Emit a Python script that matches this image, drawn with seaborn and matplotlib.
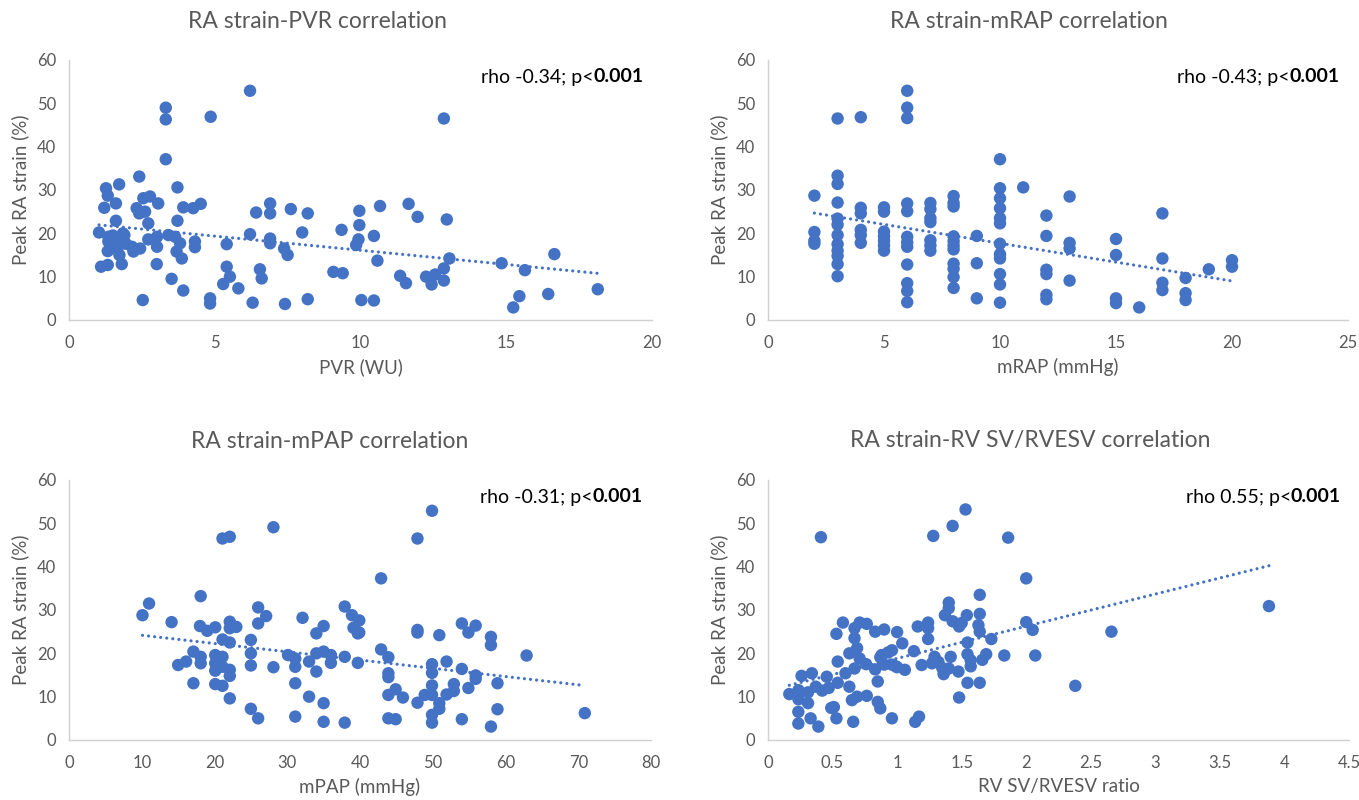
import numpy as np
import pandas as pd
import matplotlib
matplotlib.use("Agg")
import matplotlib.pyplot as plt
import seaborn as sns
from matplotlib.ticker import FuncFormatter

# ---------------- data ----------------
pvr = [1.03, 1.10, 1.33, 1.21, 1.27, 1.33, 1.61, 1.72, 1.61, 1.35, 1.35, 1.33, 1.72, 1.72, 1.80, 1.73, 1.81,
       1.50, 1.60, 1.90, 1.95, 1.55, 1.85,
       2.16, 2.21, 2.44, 2.41, 2.32, 2.41, 2.55, 2.78, 2.61, 2.72, 2.72, 3.02, 3.02, 3.06, 3.01, 2.53,
       3.32, 3.32, 3.32, 3.41, 3.52, 3.72, 3.72, 3.64, 3.81, 3.69, 3.87, 3.92, 3.92, 4.26, 4.52, 4.32, 4.32,
       4.86, 4.84, 4.84,
       5.41, 5.41, 5.52, 5.29, 5.81, 6.21, 6.21, 6.30, 6.42, 6.90, 6.90, 6.90, 6.90, 6.55, 6.61, 7.38, 7.50,
       7.41, 7.61, 8.19, 8.00, 8.19,
       9.07, 9.39, 9.35, 9.96, 9.96, 9.93, 9.85, 10.03, 10.46, 10.46, 10.58, 10.67, 11.36, 11.56, 11.65,
       11.96, 12.25, 12.44, 12.56, 12.86, 12.86, 12.86, 12.96, 13.05, 14.84, 15.24, 15.45, 15.64, 16.44,
       16.65, 18.14]
pvr_strain = [20.2, 12.3, 12.7, 25.9, 30.4, 28.7, 26.9, 31.3, 22.9, 19.2, 18.1, 15.9, 18.8, 17.3, 18.3, 15.0, 12.9,
              19.5, 17.8, 19.6, 17.6, 16.6, 20.0,
              16.9, 15.8, 16.5, 33.1, 25.8, 24.6, 28.1, 28.5, 25.0, 22.3, 18.6, 19.2, 16.9, 26.9, 12.9, 4.6,
              49.0, 46.3, 37.1, 19.6, 9.5, 30.6, 22.9, 19.2, 17.7, 15.8, 14.2, 6.8, 26.0, 25.8, 26.8, 18.1, 16.8,
              46.9, 5.0, 3.8,
              17.5, 12.3, 10.0, 8.3, 7.3, 52.9, 19.8, 4.0, 24.8, 26.9, 24.6, 18.8, 17.7, 11.7, 9.6, 16.5, 15.0,
              3.7, 25.6, 24.6, 20.2, 4.8,
              11.1, 10.8, 20.8, 25.2, 21.9, 18.6, 17.3, 4.6, 4.5, 19.4, 13.7, 26.3, 10.2, 8.5, 26.8,
              23.8, 10.0, 8.2, 10.5, 11.9, 9.1, 46.5, 23.2, 14.2, 13.1, 2.9, 5.5, 11.5, 6.0,
              15.2, 7.1]

mrap = [2, 2, 2, 2,
        3, 3, 3, 3, 3, 3, 3, 3, 3, 3, 3, 3,
        4, 4, 4, 4, 4, 4,
        5, 5, 5, 5, 5, 5, 5,
        6, 6, 6, 6, 6, 6, 6, 6, 6, 6, 6, 6,
        7, 7, 7, 7, 7, 7, 7,
        8, 8, 8, 8, 8, 8, 8, 8, 8, 8, 8,
        9, 9, 9,
        10, 10, 10, 10, 10, 10, 10, 10, 10, 10, 10, 10,
        11,
        12, 12, 12, 12, 12, 12,
        13, 13, 13, 13,
        15, 15, 15, 15,
        16,
        17, 17, 17, 17,
        18, 18, 18,
        19,
        20, 20]
mrap_strain = [28.7, 20.3, 18.3, 17.6,
               46.5, 33.3, 31.4, 27.1, 23.4, 22.0, 19.6, 17.5, 16.0, 14.8, 12.9, 10.1,
               46.8, 25.9, 24.6, 20.8, 19.6, 17.8,
               26.0, 25.0, 20.4, 19.3, 18.3, 17.2, 16.0,
               52.9, 49.0, 46.6, 26.9, 25.1, 19.2, 17.9, 16.9, 12.8, 8.5, 6.7, 4.1,
               27.0, 25.6, 23.5, 22.6, 18.4, 17.2, 16.0,
               28.6, 27.0, 26.2, 19.3, 18.2, 17.2, 16.3, 13.0, 11.8, 9.9, 7.4,
               19.4, 13.1, 5.0,
               37.1, 30.4, 28.1, 25.8, 23.5, 22.3, 17.6, 15.2, 14.2, 10.6, 8.2, 4.0,
               30.6,
               24.1, 19.4, 11.6, 10.6, 5.8, 4.8,
               28.5, 17.8, 16.5, 9.1,
               18.7, 15.0, 5.0, 3.9,
               2.9,
               24.6, 14.2, 8.6, 6.9,
               9.7, 6.2, 4.6,
               11.7,
               13.8, 12.3]

mpap = [10.1, 11.0, 14.1, 15.0, 16.1, 17.1, 17.1, 18.1, 18.0, 18.1, 18.1, 19.0, 20.1, 20.1, 20.1, 20.1, 20.1,
        21.1, 21.1, 21.1, 22.1, 21.1, 21.1, 22.1, 22.1, 23.0, 22.1, 22.1, 22.1, 22.1, 25.0, 25.0, 25.0, 25.0,
        26.0, 27.1, 26.0, 26.0, 28.1, 28.1, 30.1, 31.1, 31.1, 31.1, 31.1, 32.1, 33.0, 33.0, 34.0, 34.0, 34.0,
        35.0, 35.0, 35.0, 35.0, 36.0, 36.0, 37.9, 37.9, 37.9, 38.9, 39.1, 39.7, 39.7, 39.9, 39.9,
        42.9, 42.9, 43.9, 43.9, 43.9, 43.9, 43.9, 44.9, 44.9, 45.9, 47.9, 47.9, 47.9, 47.9, 49.9, 49.9, 49.9,
        49.9, 49.9, 49.9, 49.9, 48.9, 50.9, 50.9, 50.9, 51.9, 51.9, 52.9, 52.9, 54.0, 54.0, 54.0, 54.9, 54.9,
        55.9, 55.9, 55.9, 58.0, 58.0, 58.0, 58.9, 58.9, 62.9, 70.9]
mpap_strain = [28.8, 31.5, 27.2, 17.3, 18.1, 20.4, 13.1, 33.2, 26.3, 19.2, 17.7, 25.2, 26.0, 19.6, 17.7, 16.0, 12.9,
               12.5, 23.2, 46.5, 46.9, 19.2, 16.9, 27.3, 25.8, 26.1, 22.5, 16.2, 14.8, 9.6, 23.1, 20.0, 17.2, 7.2,
               30.6, 28.6, 26.9, 5.0, 49.1, 16.8, 19.6, 18.8, 16.9, 13.1, 5.4, 28.2, 18.1, 10.0, 24.6, 15.8, 20.0,
               26.3, 20.4, 8.5, 4.2, 19.6, 17.8, 19.2, 30.8, 4.0, 28.8, 25.9, 24.6, 17.8, 27.6, 24.8,
               37.3, 20.9, 19.1, 15.4, 14.5, 10.4, 5.0, 4.8, 11.7, 9.8, 46.5, 25.4, 24.8, 8.6, 52.9, 17.5, 15.5,
               12.6, 10.4, 5.8, 4.0, 10.4, 24.2, 8.5, 7.2, 18.1, 10.5, 12.9, 11.3, 26.9, 16.4, 4.8, 24.8, 12.0,
               26.4, 14.9, 14.1, 23.8, 21.9, 3.1, 13.1, 7.1, 19.5, 6.2]

ratio = [0.165, 0.236, 0.236, 0.26, 0.235, 0.235, 0.31, 0.33, 0.34, 0.31, 0.37, 0.42, 0.47, 0.39, 0.41,
         0.455, 0.49, 0.51, 0.53, 0.53, 0.54, 0.54, 0.58, 0.60, 0.63, 0.65, 0.66, 0.63, 0.67, 0.69, 0.67,
         0.71, 0.765, 0.71, 0.69, 0.67, 0.765, 0.76, 0.83, 0.85, 0.83, 0.90, 0.85, 0.87, 0.87, 0.88, 0.93,
         0.96, 0.99, 0.90, 0.96, 1.0, 0.96, 1.0, 1.04, 1.06, 1.13, 1.14, 1.17, 1.16, 1.19, 1.24, 1.24, 1.24,
         1.28, 1.27, 1.29, 1.32, 1.35, 1.36, 1.37, 1.40, 1.40, 1.43, 1.43, 1.48, 1.50, 1.415, 1.40, 1.48,
         1.475, 1.53, 1.54, 1.545, 1.545, 1.57, 1.57, 1.545, 1.64, 1.64, 1.63, 1.64, 1.66, 1.64, 1.69, 1.73,
         1.83, 1.86, 2.0, 2.0, 2.05, 2.07, 2.38, 2.66, 3.88]
ratio_strain = [10.6, 11.5, 9.4, 14.8, 6.5, 3.8, 8.5, 5.0, 15.4, 11.0, 12.3, 11.4, 12.0, 3.1, 46.8,
                14.6, 7.4, 7.6, 5.0, 24.5, 18.1, 13.2, 27.1, 15.4, 12.3, 9.2, 4.2, 20.0, 23.5, 21.2, 25.8,
                27.1, 26.8, 18.8, 10.0, 16.5, 10.2, 17.5, 16.3, 13.5, 25.0, 25.5, 8.8, 7.3, 19.1, 19.6, 20.2,
                20.7, 17.0, 17.4, 5.0, 24.9, 17.4, 16.8, 22.3, 16.2, 20.5, 4.2, 5.4, 26.2, 17.3, 27.1, 25.8, 23.3,
                47.1, 17.7, 19.2, 18.0, 16.6, 15.2, 28.8, 31.7, 30.4, 49.4, 27.4, 26.2, 27.0, 19.2, 16.5, 9.8,
                15.8, 53.2, 28.8, 22.5, 19.8, 18.4, 17.0, 13.2, 33.5, 29.1, 26.5, 25.0, 18.5, 13.2, 19.8, 23.3,
                19.5, 46.7, 37.3, 27.2, 25.4, 19.5, 12.5, 25.0, 30.9]

panels = [
    dict(x=pvr, y=pvr_strain, title="RA strain-PVR correlation", xlabel="PVR (WU)",
         xlim=(0, 20), xstep=5, rho="rho -0.34; p<"),
    dict(x=mrap, y=mrap_strain, title="RA strain-mRAP correlation", xlabel="mRAP (mmHg)",
         xlim=(0, 25), xstep=5, rho="rho -0.43; p<"),
    dict(x=mpap, y=mpap_strain, title="RA strain-mPAP correlation", xlabel="mPAP (mmHg)",
         xlim=(0, 80), xstep=10, rho="rho -0.31; p<"),
    dict(x=ratio, y=ratio_strain, title="RA strain-RV SV/RVESV correlation", xlabel="RV SV/RVESV ratio",
         xlim=(0, 4.5), xstep=0.5, rho="rho 0.55; p<"),
]
ylabel = "Peak RA strain (%)"

# ---------------- style ----------------
sns.set_theme(style="white")
plt.rcParams['font.family'] = ['Lato', 'DejaVu Sans']
BLUE = "#4472C4"
GREY = "#595959"

W, H = 1359, 800
fig = plt.figure(figsize=(W / 100, H / 100), dpi=100)

# pixel boxes: left, top, right, bottom
boxes = [(69, 60, 652, 320), (768, 60, 1348, 320), (69, 480, 651, 740), (768, 480, 1349, 740)]
title_cx = [318, 1029, 330, 1030]
title_cy = [22, 22, 441, 441]

for p, (l, t, r, b), tcx, tcy in zip(panels, boxes, title_cx, title_cy):
    ax = fig.add_axes([l / W, 1 - b / H, (r - l) / W, (b - t) / H])
    df = pd.DataFrame({"x": p["x"], "y": p["y"]})
    sns.scatterplot(data=df, x="x", y="y", ax=ax, color=BLUE, s=80, edgecolor="none", linewidth=0, zorder=3)
    sns.regplot(data=df, x="x", y="y", ax=ax, scatter=False, ci=None, truncate=True,
                line_kws=dict(color=BLUE, lw=2.3, linestyle=(0, (0.01, 1.9)), dash_capstyle="round", zorder=2))
    ax.set_xlim(*p["xlim"])
    ax.set_ylim(0, 60)
    ax.set_xticks(np.arange(p["xlim"][0], p["xlim"][1] + 1e-9, p["xstep"]))
    ax.set_yticks(np.arange(0, 61, 10))
    ax.xaxis.set_major_formatter(FuncFormatter(lambda v, pos: f"{v:g}"))
    ax.tick_params(axis="both", length=0, labelsize=12, labelcolor=GREY)
    ax.tick_params(axis="x", pad=11)
    ax.tick_params(axis="y", pad=9)
    for s in ["top", "right"]:
        ax.spines[s].set_visible(False)
    for s in ["left", "bottom"]:
        ax.spines[s].set_color("#D0D0D0")
        ax.spines[s].set_linewidth(1.0)
    ax.set_xlabel(p["xlabel"], fontsize=13.5, color=GREY, labelpad=5)
    ax.set_ylabel(ylabel, fontsize=13.5, color=GREY, labelpad=6)
    ax.set_facecolor("white")
    fig.text(tcx / W, 1 - tcy / H, p["title"], ha="center", va="center", fontsize=16.5, color=GREY)
    # rho annotation with bold p-value
    rx = (r - 8) / W
    ry = 1 - (t + 17) / H
    bold = fig.text(rx, ry, "0.001", ha="right", va="center", fontsize=14, fontweight="bold", color="black")
    fig.canvas.draw()
    bb = bold.get_window_extent()
    fig.text(bb.x0 / W, ry, p["rho"], ha="right", va="center", fontsize=14, color="black")

fig.savefig("out.png", dpi=100, facecolor="white")
